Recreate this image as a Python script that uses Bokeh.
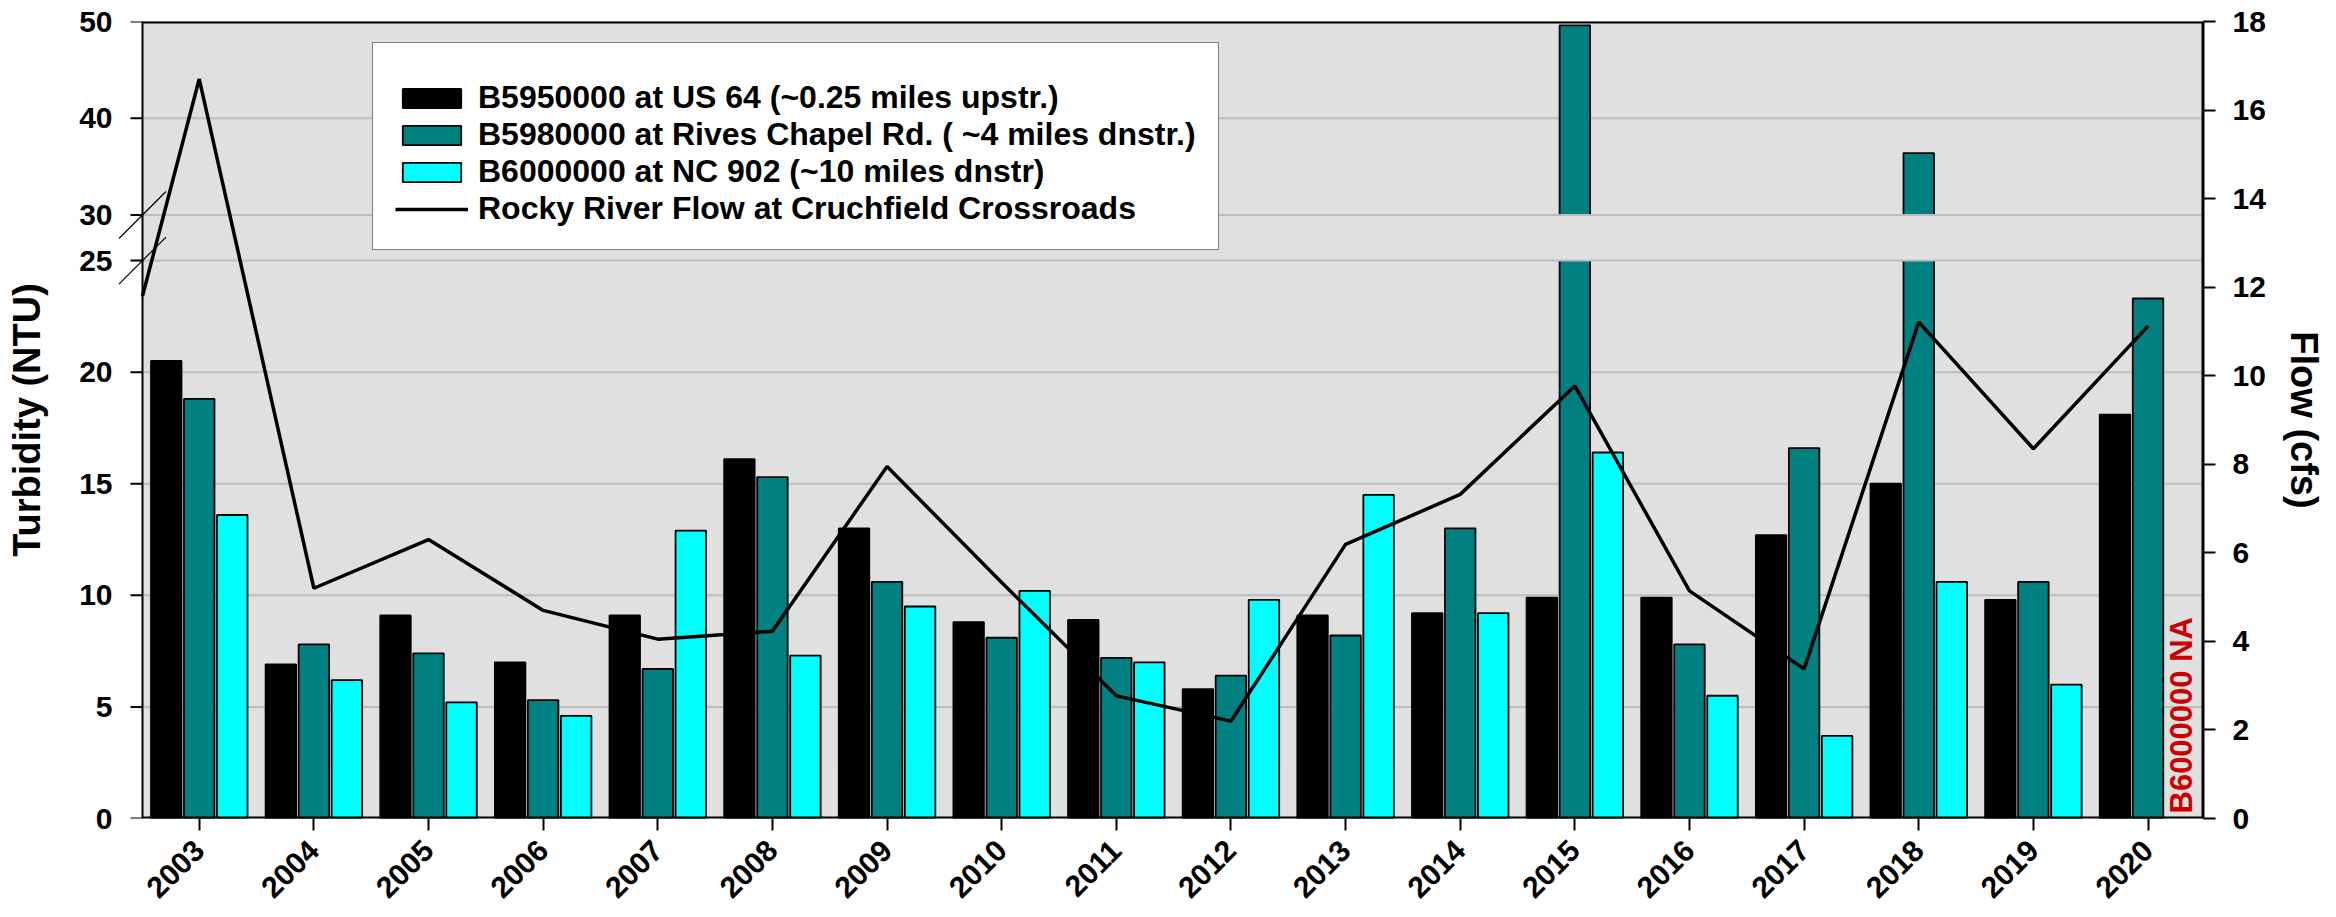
import math
from bokeh.plotting import figure
from bokeh.models import (Range1d, LinearAxis, FixedTicker, CustomJSTickFormatter,
                          Legend, LegendItem, ColumnDataSource)
from bokeh.transform import dodge
from bokeh.embed import file_html
from bokeh.resources import INLINE
from bokeh.core.properties import value

# ---------------- data ----------------
years = list(range(2003, 2021))
b5950000 = [20.5, 6.9, 9.1, 7.0, 9.1, 16.1, 13.0, 8.8, 8.9, 5.8, 9.1, 9.2, 9.9, 9.9, 12.7, 15.0, 9.8, 18.1]
b5980000 = [18.8, 7.8, 7.4, 5.3, 6.7, 15.3, 10.6, 8.1, 7.2, 6.4, 8.2, 13.0, 49.6, 7.8, 16.6, 36.4, 10.6, 23.3]
b6000000 = [13.6, 6.2, 5.2, 4.6, 12.9, 7.3, 9.5, 10.2, 7.0, 9.8, 14.5, 9.2, 16.4, 5.5, 3.7, 10.6, 6.0, None]
flow_years = list(range(2002, 2021))
flow = [6.8, 16.7, 5.2, 6.3, 4.7, 4.05, 4.23, 7.95, 5.33, 2.77, 2.2, 6.19, 7.32, 9.77, 5.14, 3.38, 11.21, 8.35, 11.12]
left_ticks = [0, 5, 10, 15, 20, 25, 30, 40, 50]
right_ticks = list(range(0, 19, 2))
labels = ["B5950000 at US 64 (~0.25 miles upstr.)",
          "B5980000 at Rives Chapel Rd. ( ~4 miles dnstr.)",
          "B6000000 at NC 902 (~10 miles dnstr)",
          "Rocky River Flow at Cruchfield Crossroads"]
na_note = "B6000000 NA"

# ---------------- broken axis transform ----------------
BREAK_LO, BREAK_HI = 25, 30
GAP = 2.043           # display height of the 25..30 break
UPPER_SCALE = 0.4335  # compression above the break


def disp(v):
    if v is None:
        return None
    return v if v <= BREAK_LO else BREAK_LO + GAP + (v - BREAK_HI) * UPPER_SCALE


FONT = "Liberation Sans"
BG = "#e0e0e0"
GRID = "#bdbdbd"
OFF = 0.288
BW = 0.266
X0, X1 = 2002.505, 2020.484      # visible plot area (years)
PLOT_W, PLOT_H = 2061, 797       # px of the visible plot area
STRIP = 30                       # px of white strip left of the axis (for ticks / break marks)
PXY = PLOT_W / (X1 - X0)         # px per year
YTOP = disp(50)
PYU = PLOT_H / YTOP              # px per display unit
XS = X0 - STRIP / PXY

p = figure(frame_width=PLOT_W + STRIP, frame_height=PLOT_H,
           x_range=Range1d(XS, X1), y_range=Range1d(0, YTOP),
           output_backend="svg", toolbar_location=None,
           min_border_left=142 - STRIP, min_border_top=21, min_border_right=133, min_border_bottom=10)
p.background_fill_color = "white"
p.border_fill_color = "white"
p.outline_line_color = None
p.xgrid.visible = False
p.ygrid.visible = False

# left axis (labels only; ticks/line drawn at the visible plot edge)
ya = p.yaxis[0]
ya.ticker = FixedTicker(ticks=[disp(t) for t in left_ticks])
ya.formatter = CustomJSTickFormatter(args=dict(lo=BREAK_LO, hi=BREAK_HI, gap=GAP, k=UPPER_SCALE), code="""
    const v = tick <= lo + 1e-6 ? tick : hi + (tick - lo - gap) / k;
    return Math.round(v).toString();
""")
ya.axis_label = "Turbidity (NTU)"

# right axis
p.extra_y_ranges = {"flow": Range1d(0, 18)}
ra = LinearAxis(y_range_name="flow", ticker=FixedTicker(ticks=right_ticks), axis_label="Flow (cfs)")
p.add_layout(ra, "right")

xa = p.xaxis[0]
xa.ticker = FixedTicker(ticks=years)
xa.major_label_orientation = math.pi / 4

for ax in [ya, ra, xa]:
    ax.major_label_text_font = FONT
    ax.major_label_text_font_style = "bold"
    ax.major_label_text_font_size = "30px"
    ax.major_label_text_color = "black"
    ax.axis_label_text_font = FONT
    ax.axis_label_text_font_style = "bold"
    ax.axis_label_text_font_size = "38px"
    ax.axis_label_text_color = "black"
    ax.axis_line_width = 2
    ax.major_tick_line_width = 2
    ax.major_tick_out = 12
    ax.major_tick_in = 0
    ax.minor_tick_out = 0
    ax.minor_tick_in = 0
ya.axis_line_color = None
ya.major_tick_line_color = None
ya.major_tick_out = 0
ya.major_label_standoff = 0
ya.axis_label_standoff = 28
ra.major_label_standoff = 17
ra.axis_label_standoff = 14
xa.axis_line_color = None
xa.major_label_standoff = 15

# plot area background + grid
p.quad(left=X0, right=X1, bottom=0, top=YTOP, fill_color=BG, line_color=None)
grid_y = [disp(t) for t in left_ticks if t > 0]
p.segment(x0=[X0] * len(grid_y), x1=[X1] * len(grid_y), y0=grid_y, y1=grid_y,
          line_color=GRID, line_width=2)

# bars
src = ColumnDataSource(dict(year=years,
                            s1=[disp(v) for v in b5950000],
                            s2=[disp(v) for v in b5980000]))
yrs3 = [y for y, v in zip(years, b6000000) if v is not None]
src3 = ColumnDataSource(dict(year=yrs3, s3=[disp(v) for v in b6000000 if v is not None]))

r1 = p.vbar(x=dodge("year", -OFF, range=p.x_range), top="s1", width=BW, source=src,
            fill_color="black", line_color="black", line_width=1.8)
r2 = p.vbar(x=dodge("year", 0, range=p.x_range), top="s2", width=BW, source=src,
            fill_color="#008080", line_color="black", line_width=1.8)
r3 = p.vbar(x=dodge("year", OFF, range=p.x_range), top="s3", width=BW, source=src3,
            fill_color="#00ffff", line_color="black", line_width=1.8)

# break gaps in tall bars
gx = []
for off, series in [(-OFF, b5950000), (0, b5980000), (OFF, b6000000)]:
    for y, v in zip(years, series):
        if v is not None and v > BREAK_HI:
            gx.append(y + off)
if gx:
    gsrc = ColumnDataSource(dict(l=[x - BW / 2 - 0.02 for x in gx], r=[x + BW / 2 + 0.02 for x in gx]))
    p.quad(left="l", right="r", bottom=disp(BREAK_LO), top=disp(BREAK_HI), source=gsrc,
           fill_color=BG, line_color=None)
    for yv in (BREAK_LO, BREAK_HI):
        p.segment(x0="l", x1="r", y0=disp(yv), y1=disp(yv), source=gsrc,
                  line_color=GRID, line_width=2)

# flow line, clipped at the left axis (first point lies before the plotted years)
fx, fy = list(flow_years), list(flow)
if fx[0] < X0:
    t = (X0 - fx[0]) / (fx[1] - fx[0])
    fx[0] = X0
    fy[0] = flow[0] + t * (flow[1] - flow[0])
r4 = p.line(fx, fy, y_range_name="flow", line_color="black", line_width=3.5)

# NA note
p.text(x=[years[-1] + OFF], y=[0], text=[na_note], angle=math.pi / 2,
       text_font=value(FONT), text_font_style="bold", text_font_size="31px",
       text_color="#cc0000", text_align="left", text_baseline="middle", y_offset=-5)

# plot box edges
p.segment(x0=[X0, X0], x1=[X1, X1], y0=[0, YTOP], y1=[0, YTOP], line_color="black", line_width=4)
p.segment(x0=[X0], x1=[X0], y0=[0], y1=[YTOP], line_color="black", line_width=2)
p.segment(x0=[X1], x1=[X1], y0=[0], y1=[YTOP], line_color="black", line_width=4)

# left ticks
tick_y = [disp(t) for t in left_ticks]
p.segment(x0=[X0 - 12 / PXY] * len(tick_y), x1=[X0] * len(tick_y), y0=tick_y, y1=tick_y,
          line_color="black", line_width=2)

# axis break marks
hx, hy = 23.5 / PXY, 23.5 / PYU
by = [disp(BREAK_LO), disp(BREAK_HI)]
p.segment(x0=[X0 - hx] * 2, x1=[X0 + hx] * 2, y0=[v - hy for v in by], y1=[v + hy for v in by],
          line_color="black", line_width=1.2)

legend = Legend(items=[LegendItem(label=labels[0], renderers=[r1]),
                       LegendItem(label=labels[1], renderers=[r2]),
                       LegendItem(label=labels[2], renderers=[r3]),
                       LegendItem(label=labels[3], renderers=[r4])],
                location=(372 - (142 - STRIP), 568))
legend.title = " "
legend.title_text_font_size = "12px"
legend.title_standoff = 0
legend.background_fill_color = "white"
legend.background_fill_alpha = 1
legend.border_line_color = "black"
legend.border_line_width = 1.5
legend.label_text_font = FONT
legend.label_text_font_style = "bold"
legend.label_text_font_size = "32px"
legend.label_text_color = "black"
legend.glyph_width = 73
legend.glyph_height = 24
legend.label_height = 36
legend.spacing = 0
legend.padding = 22
legend.label_standoff = 10
legend.margin = 0
p.add_layout(legend)

open("out.html", "w").write(file_html(p, INLINE))
